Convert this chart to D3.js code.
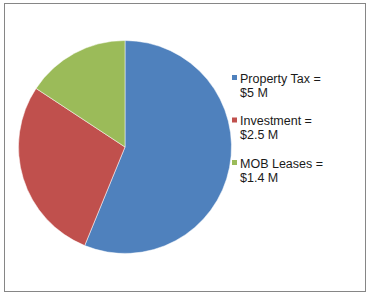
<!DOCTYPE html>
<html><head><meta charset="utf-8">
<script src="https://cdn.jsdelivr.net/npm/d3@7"></script>
<style>body{margin:0;background:#fff}svg{display:block}</style>
</head><body>
<script>
const categories = ["Property Tax", "Investment", "MOB Leases"];
const values = [5, 2.5, 1.4];
const labelLine1 = ["Property Tax =", "Investment =", "MOB Leases ="];
const labelLine2 = ["$5 M", "$2.5 M", "$1.4 M"];
const colors = ["#4F81BD", "#C0504D", "#9BBB59"];

const W = 368, H = 296;
const svg = d3.select("body").append("svg").attr("width", W).attr("height", H);
svg.append("rect").attr("x", 4.5).attr("y", 3.5).attr("width", 361).attr("height", 288)
  .attr("fill", "#fff").attr("stroke", "#868686").attr("stroke-width", 1);

const cx = 125, cy = 147, r = 106.5;
const pie = d3.pie().sort(null).value(d => d);
const arc = d3.arc().innerRadius(0).outerRadius(r);
const g = svg.append("g").attr("transform", `translate(${cx},${cy})`);
g.selectAll("path").data(pie(values)).join("path")
  .attr("d", arc).attr("fill", (d, i) => colors[i])
  .attr("stroke", "#fff").attr("stroke-width", 0.5);

const legendY = d3.scalePoint().domain(categories).range([78, 163]);
const lg = svg.append("g");
categories.forEach((c, i) => {
  const y = legendY(c);
  lg.append("rect").attr("x", 232).attr("y", y - 3).attr("width", 5).attr("height", 5).attr("fill", colors[i]);
  const t = lg.append("text").attr("x", 240).attr("y", y + 4.5)
    .attr("font-family", "Liberation Sans, Arial, sans-serif").attr("font-size", 12.5).attr("fill", "#1a1a1a");
  t.append("tspan").attr("x", 240).text(labelLine1[i]);
  t.append("tspan").attr("x", 240).attr("dy", 14).text(labelLine2[i]);
});
</script>
</body></html>
